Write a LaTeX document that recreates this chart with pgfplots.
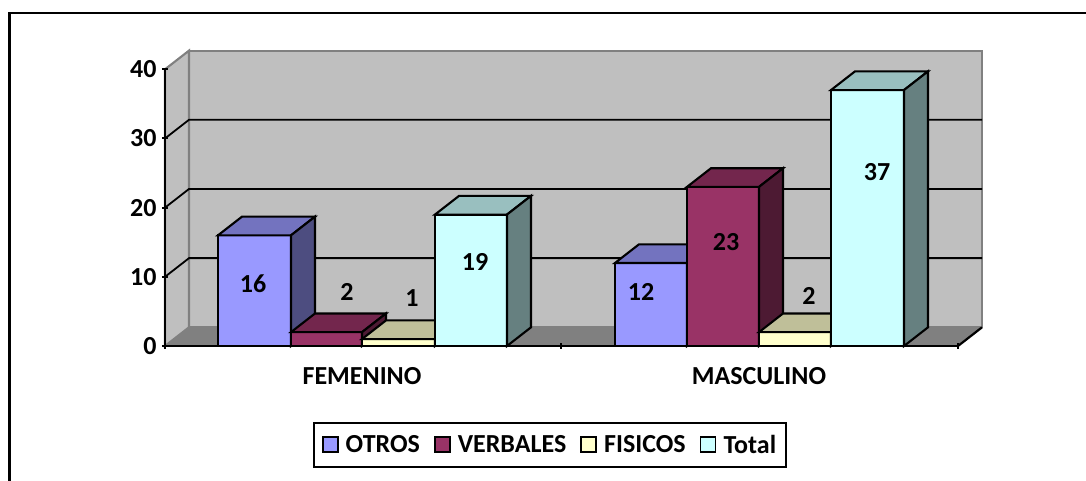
\documentclass[border=0pt]{standalone}
\usepackage{fontspec}
\setmainfont{Carlito}
\usepackage{pgfplots}
\pgfplotsset{compat=1.18}
\definecolor{otf}{HTML}{9999FF}\definecolor{ott}{HTML}{7373BF}\definecolor{ots}{HTML}{4D4D80}
\definecolor{vef}{HTML}{993366}\definecolor{vet}{HTML}{73264D}\definecolor{ves}{HTML}{4D1A33}
\definecolor{fif}{HTML}{FFFFCC}\definecolor{fit}{HTML}{BFBF99}\definecolor{fis}{HTML}{808066}
\definecolor{tof}{HTML}{CCFFFF}\definecolor{tot}{HTML}{99BFBF}\definecolor{tos}{HTML}{668080}
\newcommand{\Bar}[4]{% x0 x1 value colourprefix
  \pgfmathsetmacro{\xa}{#1+24}\pgfmathsetmacro{\xb}{#2+24}\pgfmathsetmacro{\vb}{#3+2.7}
  \addplot[fill=#4f,draw=black,line width=2.1pt,line join=miter,forget plot] coordinates {(#1,0)(#2,0)(#2,#3)(#1,#3)} --cycle;
  \addplot[fill=#4t,draw=black,line width=2.1pt,forget plot] coordinates {(#1,#3)(#2,#3)(\xb,\vb)(\xa,\vb)} --cycle;
  \addplot[fill=#4s,draw=black,line width=2.1pt,forget plot] coordinates {(#2,0)(\xb,2.7)(\xb,\vb)(#2,#3)} --cycle;
}
\begin{document}
\begin{tikzpicture}[x=1pt,y=1pt]
\path[use as bounding box] (-165,-135) rectangle (921,346);
\draw[line width=2.2pt] (-155.5,-135) -- (-155.5,332.7) -- (921,332.7);
\begin{axis}[
  scale only axis, width=793pt, height=276.7pt,
  xmin=165, xmax=958, ymin=0, ymax=40, clip=false,
  axis lines=left, axis line style={-, black, line width=2.2pt},
  axis on top,
  ytick={0,10,20,30,40},
  xtick={165,561,958}, xticklabels={},
  extra x ticks={362,759}, extra x tick labels={FEMENINO,MASCULINO},
  extra x tick style={major tick length=0pt},
  major tick length=6pt,
  tick style={black,line width=2pt},
  /pgf/number format/assume math mode=true,
  tick label style={font=\fontsize{26}{26}\selectfont\bfseries},
  xticklabel style={yshift=-18pt},
  yticklabel style={xshift=-2pt},
  legend style={at={(0.4855,-0.358)},anchor=center,draw=black,line width=2pt,
    legend columns=4,font=\fontsize{26}{26}\selectfont\bfseries,
    inner xsep=8pt,inner ysep=10pt,
    /tikz/every even column/.style={column sep=12pt}},
  legend cell align=left,
  legend image code/.code={\draw[#1,line width=1.8pt] (0pt,-7pt) rectangle (15pt,8pt);\path (20pt,0pt);},
]
% walls and floor
\addplot[fill=black!50,draw=none,forget plot] coordinates {(165,0)(958,0)(982,2.7)(189,2.7)} --cycle;
\addplot[fill=black!25,draw=black!50,line width=2.1pt,forget plot] coordinates {(189,2.7)(982,2.7)(982,42.7)(189,42.7)} --cycle;
\addplot[fill=black!25,draw=black!50,line width=2.1pt,forget plot] coordinates {(165,0)(189,2.7)(189,42.7)(165,40)} --cycle;
\addplot[black,line width=2.2pt,forget plot] coordinates {(958,0)(982,2.7)};
% gridlines
\addplot[black,line width=1.8pt,forget plot] coordinates {(165,10)(189,12.7)(982,12.7)};
\addplot[black,line width=1.8pt,forget plot] coordinates {(165,20)(189,22.7)(982,22.7)};
\addplot[black,line width=1.8pt,forget plot] coordinates {(165,30)(189,32.7)(982,32.7)};
% bars
\Bar{218}{291}{16}{ot}
\Bar{291}{362}{2}{ve}
\Bar{362}{435}{1}{fi}
\Bar{435}{507}{19}{to}
\Bar{615}{687}{12}{ot}
\Bar{687}{759}{23}{ve}
\Bar{759}{831}{2}{fi}
\Bar{831}{904}{37}{to}
\addlegendimage{fill=otf,draw=black}\addlegendentry{OTROS}
\addlegendimage{fill=vef,draw=black}\addlegendentry{VERBALES}
\addlegendimage{fill=fif,draw=black}\addlegendentry{FISICOS}
\addlegendimage{fill=tof,draw=black}\addlegendentry{Total\hspace{5pt}}
% data labels
\begin{scope}[every node/.style={font=\fontsize{26}{26}\selectfont\bfseries,inner sep=0pt}]
\node at (axis cs:253,9) {16};
\node at (axis cs:347,7.8) {2};
\node at (axis cs:412,6.9) {1};
\node at (axis cs:475,12.2) {19};
\node at (axis cs:641,7.8) {12};
\node at (axis cs:726,15) {23};
\node at (axis cs:809,7.3) {2};
\node at (axis cs:877,25.1) {37};
\end{scope}
\end{axis}
\end{tikzpicture}
\end{document}
